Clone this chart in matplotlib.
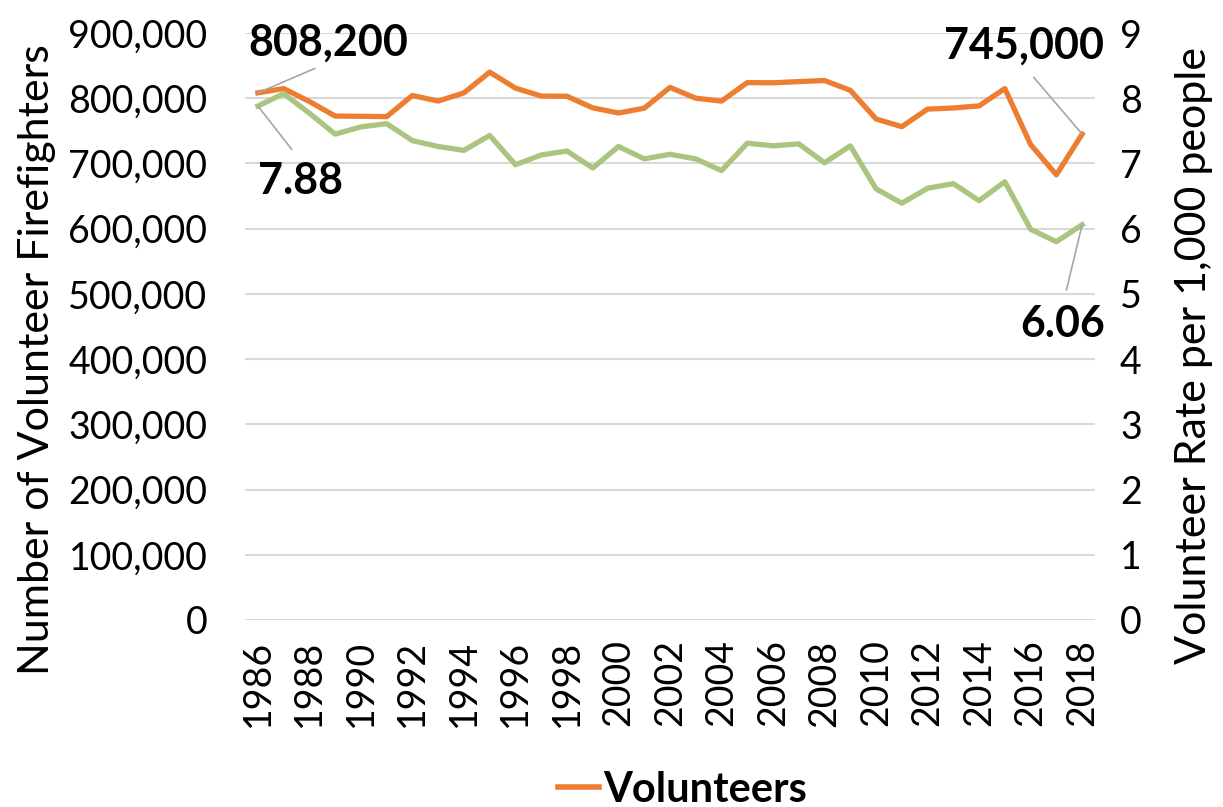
import matplotlib
matplotlib.use('Agg')
import matplotlib.pyplot as plt
from matplotlib.ticker import FuncFormatter
from matplotlib.lines import Line2D

plt.rcParams['font.family'] = ['Lato', 'DejaVu Sans']

years = list(range(1986, 2019))
volunteers = [808200, 814850, 795000, 772650, 772300, 771800, 804200, 795600, 808200, 840000,
              815500, 803350, 803000, 785250, 777350, 784700, 816600, 800050, 795600, 823950,
              823650, 825450, 827150, 812150, 768150, 756400, 783300, 785000, 788250, 814850,
              729000, 682600, 745000]
rate = [7.88, 8.07, 7.77, 7.45, 7.56, 7.61, 7.35, 7.26, 7.20, 7.43,
        6.98, 7.13, 7.19, 6.93, 7.26, 7.07, 7.14, 7.07, 6.89, 7.31,
        7.27, 7.30, 7.01, 7.27, 6.61, 6.39, 6.62, 6.69, 6.43, 6.72,
        5.99, 5.80, 6.06]
xticks = list(range(1986, 2019, 2))

orange = '#ED7D31'
green = '#A9C57F'
grid_c = '#D9D9D9'
fs = 27

fig = plt.figure(figsize=(12.23, 8.07), dpi=100)
ax = fig.add_axes([245/1223, 1 - 620/807, 850/1223, 587/807])
ax2 = ax.twinx()

ax.plot(years, volunteers, color=orange, lw=3.8, zorder=5)
ax2.plot(years, rate, color=green, lw=3.8, zorder=4)

ax.set_xlim(1985.5, 2018.5)
ax.set_ylim(0, 900000)
ax2.set_ylim(0, 9)
ax.set_yticks(range(0, 900001, 100000))
ax2.set_yticks(range(0, 10))
ax.set_xticks(xticks)
ax.yaxis.set_major_formatter(FuncFormatter(lambda v, p: '{:,}'.format(int(v))))
ax.grid(axis='y', color=grid_c, lw=1.5)
ax.set_axisbelow(True)

for a in (ax, ax2):
    for s in a.spines.values():
        s.set_visible(False)
    a.tick_params(length=0, labelsize=fs)
ax.tick_params(axis='y', pad=27)
ax2.tick_params(axis='y', pad=18)
ax.tick_params(axis='x', pad=14, labelrotation=90)

ax.set_ylabel('Number of Volunteer Firefighters', fontsize=31)
ax2.set_ylabel('Volunteer Rate per 1,000 people', fontsize=31)
ax.yaxis.set_label_coords(-0.222, 0.443)
ax2.yaxis.set_label_coords(1.094, 0.451)

lc = '#A6A6A6'
ax.annotate('808,200', xy=(years[0], volunteers[0]), xytext=(70, 30), textcoords='offset pixels',
            ha='center', va='bottom', fontsize=31, fontweight='bold', zorder=10,
            arrowprops=dict(arrowstyle='-', color=lc, lw=1.2, relpos=(0.5, 0), shrinkA=5, shrinkB=0))
ax2.annotate('7.88', xy=(years[0], rate[0]), xytext=(43, -55), textcoords='offset pixels',
             ha='center', va='top', fontsize=31, fontweight='bold', zorder=10,
             arrowprops=dict(arrowstyle='-', color=lc, lw=1.2, relpos=(0.5, 1), shrinkA=8, shrinkB=0))
ax.annotate('745,000', xy=(years[-1], volunteers[-1]), xytext=(-58, 68), textcoords='offset pixels',
            ha='center', va='bottom', fontsize=31, fontweight='bold', zorder=10,
            arrowprops=dict(arrowstyle='-', color=lc, lw=1.2, relpos=(0.5, 0), shrinkA=8, shrinkB=0))
ax2.annotate('6.06', xy=(years[-1], rate[-1]), xytext=(-19, -79), textcoords='offset pixels',
             ha='center', va='top', fontsize=31, fontweight='bold', zorder=10,
             arrowprops=dict(arrowstyle='-', color=lc, lw=1.2, relpos=(0.5, 1), shrinkA=8, shrinkB=0))

handle = Line2D([0], [0], color=orange, lw=4)
fig.legend([handle], ['Volunteers'], loc='center', bbox_to_anchor=(0.558, 0.021), frameon=False,
           handlelength=1.0, handletextpad=0.1, prop={'size': 30, 'weight': 'bold'})

fig.savefig('out.png', dpi=100)
